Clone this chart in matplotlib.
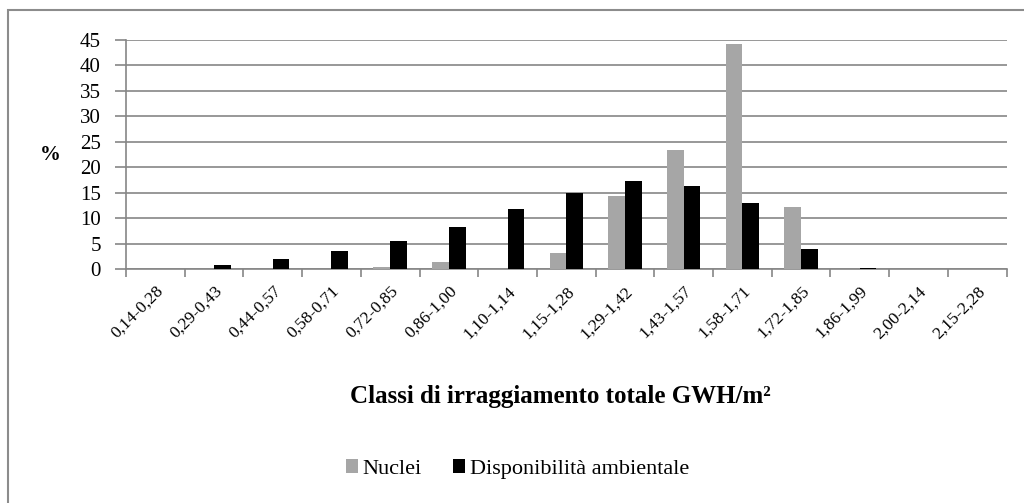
import matplotlib
matplotlib.use("Agg")
import matplotlib.pyplot as plt
import numpy as np
from matplotlib.patches import Rectangle

categories = ["0,14-0,28", "0,29-0,43", "0,44-0,57", "0,58-0,71", "0,72-0,85",
              "0,86-1,00", "1,10-1,14", "1,15-1,28", "1,29-1,42", "1,43-1,57",
              "1,58-1,71", "1,72-1,85", "1,86-1,99", "2,00-2,14", "2,15-2,28"]
nuclei = [0.1, 0.0, 0.0, 0.0, 0.4, 1.5, 0.0, 3.2, 14.4, 23.4, 44.2, 12.2, 0.0, 0.1, 0.0]
disponibilita = [0.0, 0.9, 2.0, 3.5, 5.6, 8.3, 11.8, 15.0, 17.4, 16.3, 13.0, 3.9, 0.3, 0.0, 0.0]
yticks = [0, 5, 10, 15, 20, 25, 30, 35, 40, 45]

plt.rcParams['font.family'] = ['Liberation Serif', 'DejaVu Serif']

W, H = 1024, 503
fig = plt.figure(figsize=(W/100, H/100), dpi=100)
fig.patch.set_facecolor('white')

# outer frame (cut at right/bottom)
fig.add_artist(Rectangle((8/W, -0.1), 1.2, (H - 10)/H + 0.1, transform=fig.transFigure,
                         fill=False, edgecolor='#8c8c8c', linewidth=1.5))

ax = fig.add_axes([126/W, 1 - 269.3/H, (1006.5 - 126)/W, (269.3 - 40)/H])
x = np.arange(len(categories))
bw = 0.285
gray = '#a6a6a6'
ax.bar(x - bw/2, nuclei, width=bw, color=gray, label='Nuclei', zorder=3)
ax.bar(x + bw/2, disponibilita, width=bw, color='black', label='Disponibilità ambientale', zorder=3)

ax.set_xlim(-0.5, len(categories) - 0.5)
ax.set_ylim(0, 45)
ax.set_yticks(yticks)
ax.set_yticklabels([str(v) for v in yticks], fontsize=15)
ax.yaxis.grid(True, color='#868686', linewidth=1.2, zorder=0)
ax.set_axisbelow(True)

for s in ['top', 'right']:
    ax.spines[s].set_visible(False)
for s in ['left', 'bottom']:
    ax.spines[s].set_color('#868686')
    ax.spines[s].set_linewidth(1.2)

ax.tick_params(axis='y', length=8, color='#868686', width=1.2, pad=10)
ax.set_xticks(np.arange(-0.5, len(categories), 1.0), minor=False)
ax.set_xticklabels([])
ax.tick_params(axis='x', which='major', length=6, color='#868686', width=1.2)
ax.set_xticks(x, minor=True)
ax.set_xticklabels(categories, minor=True, rotation=45, ha='right', va='top',
                   rotation_mode='anchor', fontsize=12.5)
ax.tick_params(axis='x', which='minor', length=0, pad=10)

fig.text(560/W, 1 - 397/H, 'Classi di irraggiamento totale GWH/m²', fontsize=18,
         fontweight='bold', ha='center', va='center')
fig.text(50/W, 1 - 155/H, '%', fontsize=15, fontweight='bold', ha='center', va='center')

leg = fig.legend(loc='center left', bbox_to_anchor=(326/W, 1 - 469/H), ncol=2, frameon=False,
                 fontsize=16, handlelength=0.55, handleheight=0.55, handletextpad=0.2,
                 columnspacing=1.4)

fig.savefig('out.png', dpi=100, facecolor='white')
